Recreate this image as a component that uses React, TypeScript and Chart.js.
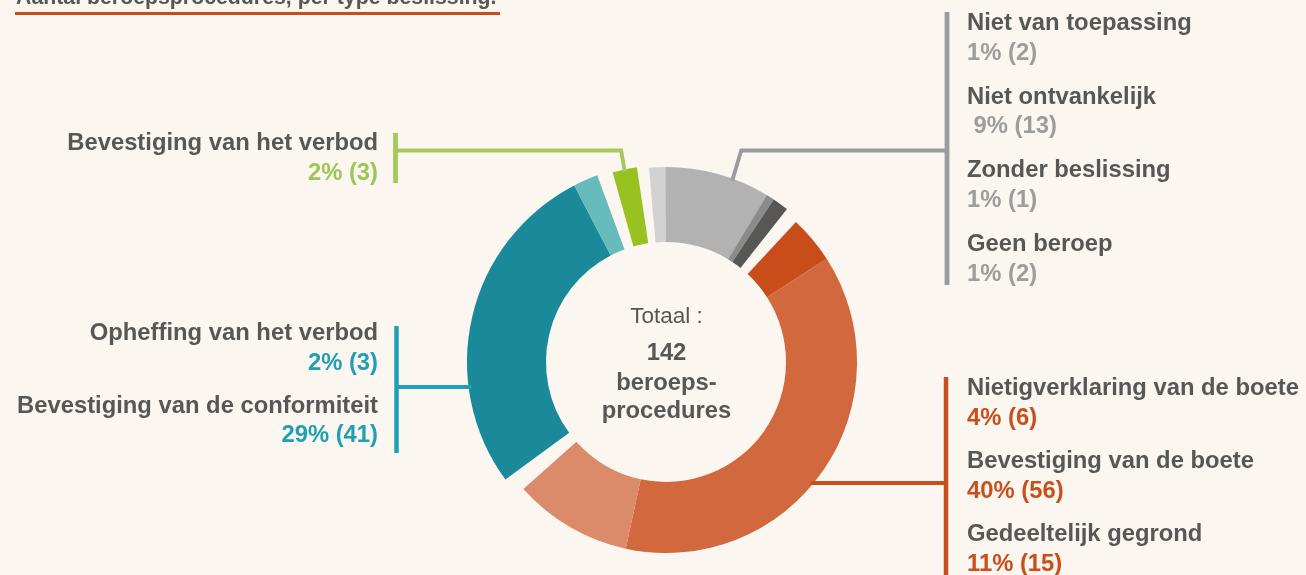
import { useEffect, useRef } from 'react';
import { Chart, registerables } from 'chart.js';

Chart.register(...registerables);

// ---------------- data ----------------
const categories = [
  'Niet van toepassing',
  'Niet ontvankelijk',
  'Zonder beslissing',
  'Geen beroep',
  'Nietigverklaring van de boete',
  'Bevestiging van de boete',
  'Gedeeltelijk gegrond',
  'Bevestiging van de conformiteit',
  'Opheffing van het verbod',
  'Bevestiging van het verbod',
];
const counts = [2, 13, 1, 2, 6, 56, 15, 41, 3, 3];
const percentLabels = ['1%', ' 9%', '1%', '1%', '4%', '40%', '11%', '29%', '2%', '2%'];
// group index of each category: 0 grey, 1 orange, 2 teal, 3 green
const groupOf = [0, 0, 0, 0, 1, 1, 1, 2, 2, 3];
const sliceColors = [
  '#d2d2d2', '#b2b2b2', '#8b8b8b', '#575756',
  '#c84d1b', '#d2683e', '#db8a6a',
  '#1a8a9b', '#66bbbb',
  '#97c21f',
];
const titleText = 'Aantal beroepsprocedures, per type beslissing.';
const centerLabel = 'Totaal :';
const centerUnitLines = ['beroeps-', 'procedures'];

// ---------------- layout / style ----------------
const CW = 1306;
const CH = 575;
const CX = 666;
const CY = 362;
const INNER_R = 120;
const groupOuterR = [195, 191, 199, 197];
const groupGapAfterDeg = [4.5, 5.5, 4.5, 3.5];
const groupWeights = [8, 4, 2, 1];
const START_DEG = -5;
const BG = '#fbf6f0';
const TEXT_DARK = '#575756';
const FONT = '"Liberation Sans", Arial, Helvetica, sans-serif';
const groupLineColors = ['#9b9a9f', '#c9501c', '#1fa0b6', '#a3ca5a'];
const groupValueColors = ['#9d9d9c', '#c9501c', '#1fa0b6', '#9cc755'];

const labelBlocks = [
  { items: [0, 1, 2, 3], group: 0, x: 967, align: 'left', first: 30, step: 73.7 },
  { items: [4, 5, 6], group: 1, x: 967, align: 'left', first: 395, step: 73 },
  { items: [9], group: 3, x: 378, align: 'right', first: 150, step: 73 },
  { items: [8, 7], group: 2, x: 378, align: 'right', first: 340, step: 72.7 },
];

function buildDatasets() {
  const total = counts.reduce((a, b) => a + b, 0);
  const sweep = 360 - groupGapAfterDeg.reduce((a, b) => a + b, 0);
  const weightTotal = groupWeights.reduce((a, b) => a + b, 0);
  let rot = START_DEG;
  let ringOffset = 0;
  return groupOuterR.map((outer, k) => {
    const idx = counts.map((_, i) => i).filter((i) => groupOf[i] === k);
    const vals = idx.map((i) => counts[i]);
    const sum = vals.reduce((a, b) => a + b, 0);
    const circ = (sum / total) * sweep;
    const thickness = outer - INNER_R;
    const radiusLength = thickness / groupWeights[k];
    const radius = outer + radiusLength * ringOffset;
    const cut = 1 - (radiusLength * weightTotal) / radius;
    const ds = {
      label: 'group' + k,
      data: vals,
      backgroundColor: idx.map((i) => sliceColors[i]),
      borderWidth: 0,
      hoverOffset: 0,
      weight: groupWeights[k],
      rotation: rot,
      circumference: circ,
      radius: radius,
      cutout: cut * 100 + '%',
    };
    rot += circ + groupGapAfterDeg[k];
    ringOffset += groupWeights[k];
    return ds;
  });
}

const decorPlugin = {
  id: 'decor',
  beforeDraw(chart: any) {
    const ctx = chart.ctx;
    ctx.save();
    ctx.fillStyle = BG;
    ctx.fillRect(0, 0, chart.width, chart.height);
    ctx.restore();
  },
  afterDraw(chart: any) {
    const ctx = chart.ctx;
    ctx.save();

    // title (cut off at top) + underline
    ctx.fillStyle = TEXT_DARK;
    ctx.font = `bold 21.3px ${FONT}`;
    ctx.textAlign = 'left';
    ctx.textBaseline = 'alphabetic';
    ctx.fillText(titleText, 16, 3.5);
    ctx.strokeStyle = '#c84b1c';
    ctx.lineWidth = 3;
    ctx.beginPath();
    ctx.moveTo(15, 13.5);
    ctx.lineTo(500, 13.5);
    ctx.stroke();

    // centre text
    const total = counts.reduce((a, b) => a + b, 0);
    ctx.textAlign = 'center';
    ctx.font = `22.5px ${FONT}`;
    ctx.fillText(centerLabel, CX + 0.5, 323);
    ctx.font = `bold 23.8px ${FONT}`;
    ctx.fillText(String(total), CX + 0.5, 360);
    ctx.fillText(centerUnitLines[0], CX + 0.5, 390);
    ctx.fillText(centerUnitLines[1], CX + 0.5, 418);

    // connectors
    const arcOf = (k: number, j: number) => chart.getDatasetMeta(k).data[j];
    const pointOn = (arc: any, t: number) => {
      const a = arc.startAngle + t * (arc.endAngle - arc.startAngle);
      return { x: arc.x + Math.cos(a) * arc.outerRadius, y: arc.y + Math.sin(a) * arc.outerRadius };
    };
    const seg = (color: string, w: number, pts: number[][]) => {
      ctx.strokeStyle = color;
      ctx.lineWidth = w;
      ctx.lineCap = 'butt';
      ctx.lineJoin = 'miter';
      ctx.beginPath();
      pts.forEach((p, i) => (i === 0 ? ctx.moveTo(p[0], p[1]) : ctx.lineTo(p[0], p[1])));
      ctx.stroke();
    };

    // green
    const gA = pointOn(arcOf(3, 0), 0.5);
    seg(groupLineColors[3], 3.8, [[gA.x, gA.y + 2], [gA.x - 3.5, 150.5], [396, 150.5]]);
    seg(groupLineColors[3], 4.8, [[395.5, 133], [395.5, 183]]);

    // grey
    const grA = pointOn(arcOf(0, 1), 0.64);
    seg(groupLineColors[0], 3.8, [[grA.x, grA.y + 2], [grA.x + 9, 150.5], [947, 150.5]]);
    seg(groupLineColors[0], 4.8, [[947, 12], [947, 285]]);

    // teal
    const tArc = arcOf(2, 0);
    const tY = 387;
    const tX = tArc.x - Math.sqrt(tArc.outerRadius ** 2 - (tY - tArc.y) ** 2);
    seg(groupLineColors[2], 3.8, [[tX + 3, tY], [396, tY]]);
    seg(groupLineColors[2], 4.5, [[396.5, 326], [396.5, 453]]);

    // orange
    const oArc = arcOf(1, 1);
    const oY = 483;
    const oX = oArc.x + Math.sqrt(oArc.outerRadius ** 2 - (oY - oArc.y) ** 2);
    seg(groupLineColors[1], 3.8, [[oX - 3, oY], [946, oY]]);
    seg(groupLineColors[1], 4.5, [[946, 377], [946, 576]]);

    // labels
    labelBlocks.forEach((b) => {
      ctx.textAlign = b.align;
      b.items.forEach((i, n) => {
        const y = b.first + n * b.step;
        ctx.font = `bold 23.8px ${FONT}`;
        ctx.fillStyle = TEXT_DARK;
        ctx.fillText(categories[i], b.x, y);
        ctx.fillStyle = groupValueColors[b.group];
        ctx.fillText(`${percentLabels[i]} (${counts[i]})`, b.x, y + 29.7);
      });
    });

    ctx.restore();
  },
};

export default function App() {
  const canvasRef = useRef<HTMLCanvasElement | null>(null);

  useEffect(() => {
    document.body.style.margin = '0';
    document.body.style.background = BG;
    const canvas = canvasRef.current;
    if (!canvas) return;
    const chart = new Chart(canvas, {
      type: 'doughnut',
      data: {
        labels: [],
        datasets: buildDatasets() as any,
      },
      options: {
        responsive: false,
        animation: false,
        devicePixelRatio: 1,
        events: [],
        layout: {
          padding: { left: CX - 193, right: CW - (CX + 193), top: CY - 193, bottom: CH - (CY + 193) },
        },
        plugins: {
          legend: { display: false },
          tooltip: { enabled: false },
          title: { display: false },
        },
      } as any,
      plugins: [decorPlugin],
    });
    return () => chart.destroy();
  }, []);

  return (
    <div style={{ width: CW, height: CH, background: BG }}>
      <canvas ref={canvasRef} width={CW} height={CH} style={{ display: 'block' }} />
    </div>
  );
}
